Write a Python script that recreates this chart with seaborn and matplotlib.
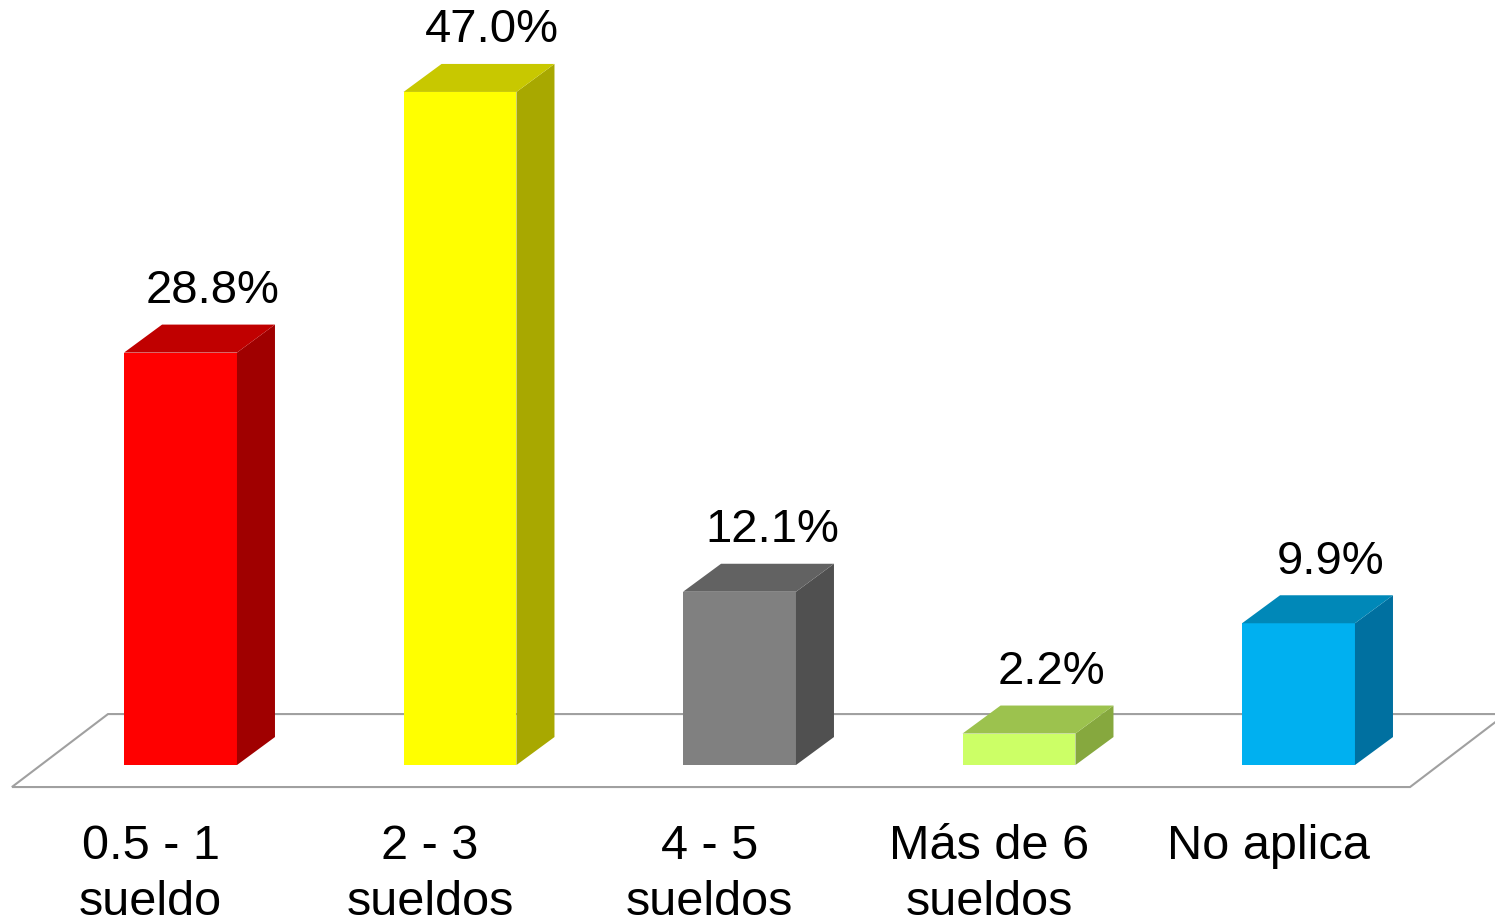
import matplotlib
matplotlib.use("Agg")
import matplotlib.pyplot as plt
from matplotlib.patches import Polygon
import seaborn as sns
import pandas as pd

# chart data
categories = ["0.5 - 1\nsueldo", "2 - 3\nsueldos", "4 - 5\nsueldos", "Más de 6\nsueldos", "No aplica"]
values = [28.8, 47.0, 12.1, 2.2, 9.9]
value_labels = ["28.8%", "47.0%", "12.1%", "2.2%", "9.9%"]

# face colours (front, top, side)
front_colors = ["#FF0000", "#FFFF00", "#808080", "#CCFF66", "#00B0F0"]
top_colors = ["#C00000", "#C8C800", "#626262", "#9CC24E", "#0088B8"]
side_colors = ["#A00000", "#A8A800", "#505050", "#86A83E", "#0070A0"]

df = pd.DataFrame({"cat": categories, "val": values})

sns.set_style("white")
plt.rcParams["font.family"] = ["Liberation Sans", "DejaVu Sans"]

fig = plt.figure(figsize=(14.95, 9.21), dpi=100)
ax = fig.add_axes([0, 0, 1, 1])

sns.barplot(data=df, x="cat", y="val", hue="cat", palette=front_colors,
            width=0.404, saturation=1, legend=False, ax=ax, zorder=3,
            linewidth=0)

ax.set_xlim(-0.6458, 4.703)
ax.set_ylim(-10.89, 53.42)
ax.axis("off")

# 3D depth offset
dx, dy = 0.136, 1.955

# floor outline
floor = Polygon([(-0.6033, -1.536), (4.399, -1.536), (4.742, 3.56), (-0.2594, 3.56)],
                closed=True, fill=False, edgecolor="#A0A0A0", linewidth=1.5, zorder=1)
ax.add_patch(floor)

for i, p in enumerate(ax.patches[:len(values)]):
    x0 = p.get_x()
    w = p.get_width()
    h = p.get_height()
    x1 = x0 + w
    side = Polygon([(x1, 0), (x1 + dx, dy), (x1 + dx, h + dy), (x1, h)],
                   closed=True, facecolor=side_colors[i], edgecolor="none", zorder=3)
    top = Polygon([(x0, h), (x1, h), (x1 + dx, h + dy), (x0 + dx, h + dy)],
                  closed=True, facecolor=top_colors[i], edgecolor="none", zorder=3)
    ax.add_patch(side)
    ax.add_patch(top)
    ax.text(x0 + w / 2 + dx * 0.85, h + dy + 1.5, value_labels[i],
            ha="center", va="baseline", fontsize=34, color="black")
    ax.text(x0 + w / 2 - 0.107, -4.1, categories[i],
            ha="center", va="top", fontsize=35, color="black", linespacing=1.32)

fig.savefig("out.png", dpi=100)
